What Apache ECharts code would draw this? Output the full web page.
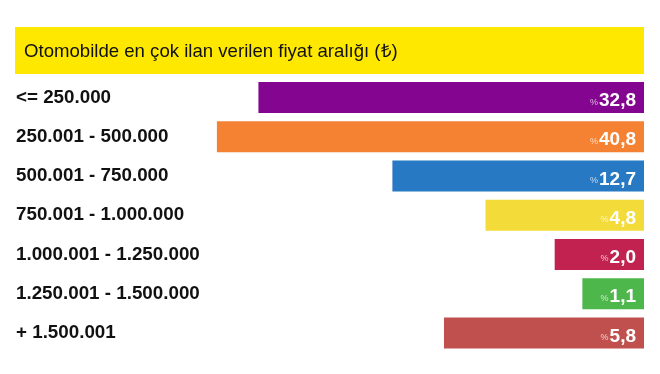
<!DOCTYPE html>
<html>
<head>
<meta charset="utf-8">
<script src="https://cdn.jsdelivr.net/npm/echarts@6/dist/echarts.min.js"></script>
<style>html,body{margin:0;padding:0;background:#fff;}#c{width:660px;height:374px;}</style>
</head>
<body>
<div id="c"></div>
<script>
const titleText = 'Otomobilde en çok ilan verilen fiyat aralığı (₺)';
const categories = ['<= 250.000', '250.001 - 500.000', '500.001 - 750.000', '750.001 - 1.000.000', '1.000.001 - 1.250.000', '1.250.001 - 1.500.000', '+ 1.500.001'];
const shares = ['32,8', '40,8', '12,7', '4,8', '2,0', '1,1', '5,8'];
// bar lengths as drawn in the reference (share of the full row width, in %)
const barLengths = [61.3, 67.9, 40.0, 25.2, 14.2, 9.8, 31.8];
const colors = ['#84058f', '#f58233', '#2779c3', '#f3db3a', '#c1224f', '#4db74b', '#c0504e'];

const chart = echarts.init(document.getElementById('c'), null, {renderer: 'canvas'});
chart.setOption({
  animation: false,
  backgroundColor: '#ffffff',
  graphic: [{
    type: 'group', left: 15, top: 27,
    children: [
      {type: 'rect', shape: {x: 0, y: 0, width: 629, height: 47}, style: {fill: '#ffe800'}},
      {type: 'text', x: 9, y: 24.5, style: {text: titleText, fill: '#111', font: '18.6px "Liberation Sans", Arial, sans-serif', textVerticalAlign: 'middle'}}
    ]
  }],
  grid: {left: 15, right: 16, top: 77.9, bottom: 21.4, containLabel: false},
  xAxis: {type: 'value', inverse: true, min: 0, max: 100, show: false},
  yAxis: {
    type: 'category', inverse: true, data: categories,
    axisLine: {show: false, onZero: false}, axisTick: {show: false}, position: 'left',
    axisLabel: {inside: true, margin: 1, align: 'left', color: '#111', fontSize: 18.8, fontWeight: 'bold', fontFamily: '"Liberation Sans", Arial, sans-serif'}
  },
  series: [{
    type: 'bar', barWidth: 31,
    data: barLengths.map((v, i) => ({value: v, itemStyle: {color: colors[i]}})),
    label: {
      show: true, position: 'insideRight', distance: 8,
      formatter: p => '{p|%}{n|' + shares[p.dataIndex] + '}',
      rich: {
        p: {fontSize: 9, color: 'rgba(255,255,255,0.72)', fontFamily: '"Liberation Sans", Arial, sans-serif', verticalAlign: 'bottom', padding: [0, 1, 4, 0]},
        n: {fontSize: 19, fontWeight: 'bold', color: '#fff', fontFamily: '"Liberation Sans", Arial, sans-serif', padding: [7, 0, 0, 0]}
      }
    }
  }]
});
</script>
</body>
</html>
